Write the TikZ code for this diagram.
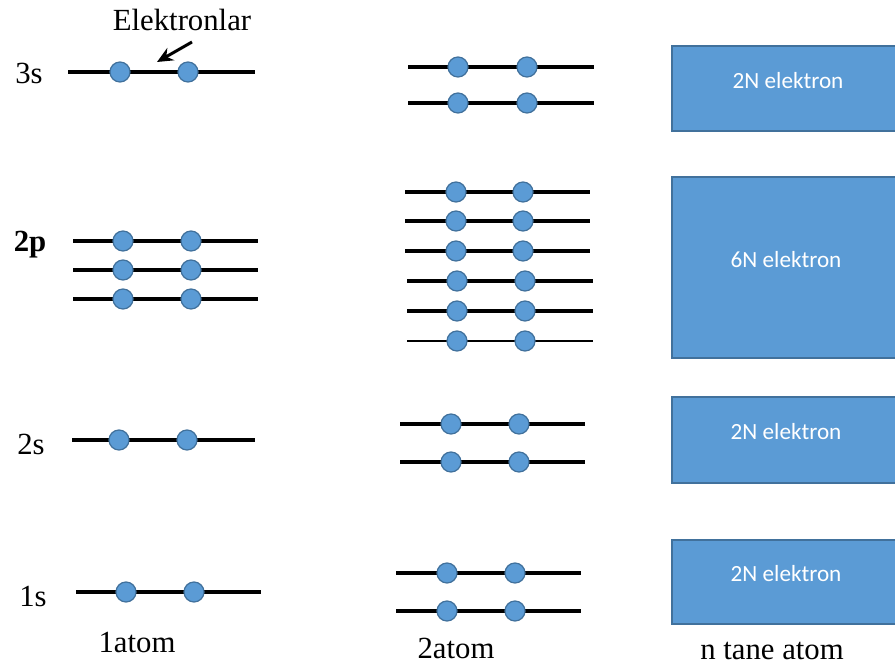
\documentclass[tikz,border=0pt]{standalone}
\usepackage{fontspec}
\setmainfont{Liberation Serif}
\newfontfamily\boxfont{Carlito}
\usetikzlibrary{arrows.meta}
\definecolor{eblue}{HTML}{5B9BD5}
\definecolor{eedge}{HTML}{41719C}
\newcommand\elevel[7][1.9pt]{%
  \coordinate (#2a) at (#4,#3);
  \coordinate (#2b) at (#5,#3);
  \draw[line width=#1] (#2a) -- (#2b);
  \node[electron] (#2e1) at (#6,#3) {};
  \node[electron] (#2e2) at (#7,#3) {};}
\begin{document}
\begin{tikzpicture}[x=0.02cm,y=-0.02cm,
  electron/.style={circle,fill=eblue,draw=eedge,line width=0.7pt,minimum size=0.4cm,inner sep=0pt},
  band/.style={rectangle,fill=eblue,draw=eedge,line width=0.8pt},
  bandtxt/.style={text=white,font=\boxfont\fontsize{13.2}{15}\selectfont,inner sep=0pt},
  lbl/.style={font=\fontsize{17.5}{19}\selectfont,inner sep=0pt},
  arr/.style={-{Stealth[length=9pt,width=8pt]},line width=1.7pt}]
\clip (0,0) rectangle (895,666);
\fill[white] (0,0) rectangle (895,666);
% ---- 1 atom column ----
\elevel{A3s}{72}{68}{255}{120}{188}
\elevel{Ap1}{241}{73}{258}{123}{191}
\elevel{Ap2}{270}{73}{258}{123}{191}
\elevel{Ap3}{299}{73}{258}{123}{191}
\elevel{A2s}{440}{72}{255}{119}{187}
\elevel{A1s}{592}{76}{261}{126}{194}
\node[lbl] (l3s) at (29,73) {3s};
\node[lbl,font=\bfseries\fontsize{17.5}{19}\selectfont] (l2p) at (30,245) {2p};
\node[lbl] (l2s) at (31,444) {2s};
\node[lbl] (l1s) at (33,596) {1s};
\node[lbl] (elek) at (182,20) {Elektronlar};
\coordinate (arrS) at (192,42);
\coordinate (arrE) at (157,62);
\draw[arr] (arrS) -- (arrE);
\node[lbl] (one) at (137,642) {1atom};
% ---- 2 atom column ----
\elevel{B3a}{67}{408}{594}{458}{527}
\elevel{B3b}{103}{408}{594}{458}{527}
\elevel{Bp1}{192}{405}{590}{456}{523}
\elevel{Bp2}{221}{405}{590}{456}{523}
\elevel{Bp3}{251}{405}{590}{456}{523}
\elevel{Bp4}{281}{407}{593}{457}{525}
\elevel{Bp5}{311}{407}{593}{457}{525}
\elevel[1.2pt]{Bp6}{341}{407}{593}{457}{525}
\elevel{B2a}{424}{400}{585}{451}{519}
\elevel{B2b}{462}{400}{585}{451}{519}
\elevel{B1a}{573}{396}{581}{447}{515}
\elevel{B1b}{611}{396}{581}{447}{515}
\node[lbl] (two) at (456,648) {2atom};
% ---- n atom column ----
\draw[band] (672,46) rectangle (900,131);
\draw[band] (672,177) rectangle (900,358);
\draw[band] (672,397) rectangle (900,483);
\draw[band] (672,540) rectangle (900,624);
\node[bandtxt] (t3s) at (788,81) {2N elektron};
\node[bandtxt] (t2p) at (786,260) {6N elektron};
\node[bandtxt] (t2s) at (786,432) {2N elektron};
\node[bandtxt] (t1s) at (786,574) {2N elektron};
\node[lbl] (nat) at (772,651) {n tane atom};
\end{tikzpicture}
\end{document}
